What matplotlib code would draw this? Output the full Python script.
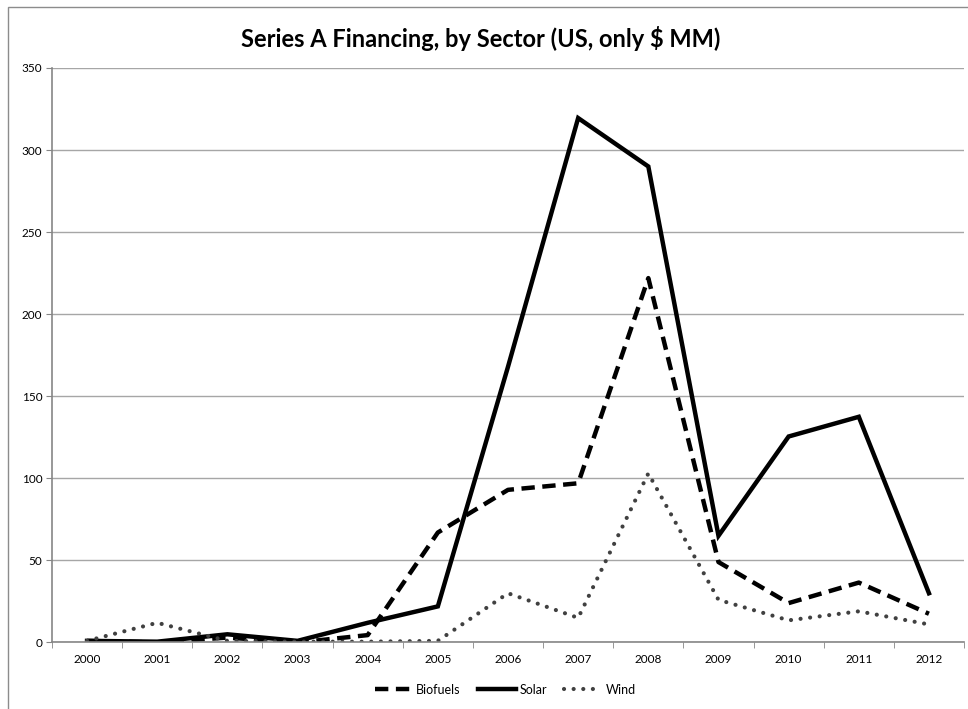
import matplotlib.pyplot as plt
from matplotlib.patches import Rectangle

years = [2000, 2001, 2002, 2003, 2004, 2005, 2006, 2007, 2008, 2009, 2010, 2011, 2012]
biofuels = [1, 0, 3, 0, 4.5, 67, 93, 97, 222, 49, 24, 36.5, 17.5]
solar = [1, 0.5, 5, 1, 12, 22, 168, 319.5, 290, 65, 125.5, 137.5, 30]
wind = [1, 12, 1, 0.5, 0.5, 1, 30, 15, 103, 26, 13.5, 19, 11]

plt.rcParams['font.family'] = ['Lato', 'DejaVu Sans']

fig = plt.figure(figsize=(9.68, 7.09), dpi=100)
ax = fig.add_axes([0.0537, 0.0938, 0.9422, 0.8103])

# outer chart border (only left/top edges visible in the reference)
fig.patches.append(Rectangle((8 / 968, -0.1), 1.2, 1.1 - 7 / 709,
                             transform=fig.transFigure, fill=False,
                             edgecolor='#8c8c8c', linewidth=1.0))

ax.plot(years, biofuels, color='black', lw=3.2, linestyle=(0, (3.0, 1.7)),
        dash_capstyle='butt', label='Biofuels')
ax.plot(years, solar, color='black', lw=3.2, solid_joinstyle='miter', label='Solar')
ax.plot(years, wind, color='#404040', lw=3.0, linestyle=(0, (0.01, 2.3)),
        dash_capstyle='round', label='Wind')

ax.set_xlim(1999.5, 2012.5)
ax.set_ylim(0, 350)
ax.set_yticks(range(0, 351, 50))
ax.set_xticks(years)
ax.set_xticks([y + 0.5 for y in [1999] + years], minor=True)
ax.tick_params(axis='x', which='major', length=0, labelsize=8.5, pad=8)
ax.tick_params(axis='x', which='minor', length=4, color='#868686', direction='out')
ax.tick_params(axis='y', length=4, color='#868686', labelsize=8.5, pad=3)
ax.yaxis.grid(True, color='#a6a6a6', linewidth=1.0)
ax.set_axisbelow(True)
for s in ['top', 'right']:
    ax.spines[s].set_visible(False)
for s in ['left', 'bottom']:
    ax.spines[s].set_color('#868686')
    ax.spines[s].set_linewidth(1.2)

fig.text(0.497, 0.946, 'Series A Financing, by Sector (US, only $ MM)',
         ha='center', va='center', fontsize=17, fontweight='bold')

ax.legend(loc='center', bbox_to_anchor=(0.497, -0.082), bbox_transform=ax.transAxes,
          ncol=3, frameon=False, fontsize=9, handlelength=3.0, handletextpad=0.3,
          columnspacing=1.4)

plt.savefig('out.png', dpi=100)
